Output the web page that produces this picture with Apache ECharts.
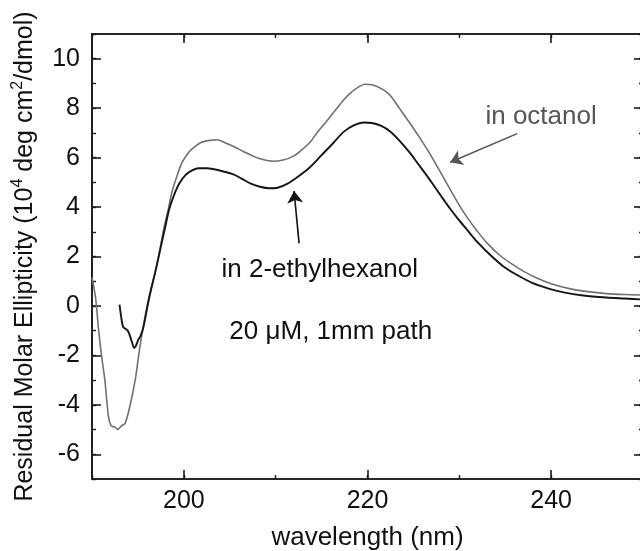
<!DOCTYPE html>
<html><head><meta charset="utf-8">
<script src="https://cdn.jsdelivr.net/npm/echarts@6/dist/echarts.min.js"></script>
<style>html,body{margin:0;padding:0;background:#fff}#c{width:640px;height:551px}</style>
</head><body><div id="c"></div>
<script>
// in octanol (gray)
const octWl = [190.0,190.4,190.7,191.0,191.4,191.8,192.1,192.5,192.8,193.2,193.6,194.1,194.7,195.2,195.6,196.0,196.5,196.9,197.4,197.8,198.3,198.7,199.2,199.8,200.4,200.9,201.8,202.5,203.0,203.6,204.2,204.8,205.4,206.5,207.6,208.6,209.7,210.8,211.9,212.8,213.7,214.5,215.5,216.3,217.4,218.1,219.0,219.7,220.5,221.7,222.5,223.5,224.6,225.7,226.8,227.5,228.3,229.2,230.0,231.0,231.9,233.0,234.4,235.5,237.0,238.5,240.0,242.0,244.0,246.0,248.0,250.0];
const octVal = [1.15,0.3,-0.9,-1.9,-3.0,-4.5,-4.85,-4.9,-5.0,-4.85,-4.75,-4.1,-3.0,-1.7,-0.8,0.0,0.8,1.4,2.3,3.1,3.9,4.6,5.2,5.8,6.15,6.35,6.6,6.68,6.7,6.72,6.65,6.55,6.45,6.25,6.05,5.92,5.85,5.9,6.05,6.3,6.6,7.0,7.45,7.82,8.33,8.6,8.85,8.97,8.95,8.75,8.5,7.98,7.4,6.8,6.15,5.7,5.18,4.58,4.07,3.5,3.05,2.55,2.05,1.75,1.4,1.12,0.9,0.7,0.58,0.5,0.46,0.44];
// in 2-ethylhexanol (black)
const ehWl = [193.0,193.2,193.4,193.9,194.3,194.6,194.8,195.0,195.3,195.6,196.0,196.3,197.0,197.5,197.95,198.4,198.9,199.5,200.2,200.9,201.6,202.5,203.3,204.2,205.4,206.3,207.3,208.3,209.3,210.2,211.3,212.5,213.7,215.0,216.3,217.4,218.5,219.6,220.5,221.5,222.5,223.5,224.6,225.5,226.5,227.2,228.1,229.0,229.9,230.8,232.0,233.4,234.8,236.3,238.0,239.9,241.5,243.5,246.0,248.0,250.0];
const ehVal = [0.05,-0.5,-0.85,-1.0,-1.4,-1.7,-1.6,-1.4,-1.2,-0.85,-0.1,0.45,1.55,2.4,3.15,3.9,4.45,4.95,5.3,5.48,5.57,5.57,5.53,5.45,5.32,5.15,4.95,4.82,4.76,4.78,4.95,5.25,5.6,6.1,6.6,7.04,7.3,7.42,7.4,7.28,7.05,6.68,6.2,5.75,5.25,4.88,4.4,3.93,3.5,3.1,2.57,2.05,1.6,1.25,0.92,0.68,0.54,0.42,0.34,0.3,0.26];

const xMajorTicks = [200, 220, 240];
const yMajorTicks = [-6, -4, -2, 0, 2, 4, 6, 8, 10];
const xRange = [190, 250];
const yRange = [-7, 11];

// annotations (data coordinates)
const octLabel = { text: 'in octanol', at: [238.9, 7.65] };
const octArrow = [[236.3, 6.97], [229.0, 5.81]];
const ehLabel = { text: 'in 2-ethylhexanol', at: [214.8, 1.45] };
const ehArrow = [[212.55, 2.53], [212.0, 4.65]];
const condLabel = { text: '20 \u03bcM, 1mm path', at: [216.0, -1.03] };

const FONT = '"Liberation Sans", Arial, Helvetica, sans-serif';
const AX = '#1a1a1a';

function zip(a, b) { return a.map((v, i) => [v, b[i]]); }

function xAx(pos, major, labels) {
  return {
    type: 'value', position: pos, min: xRange[0], max: xRange[1],
    interval: major ? undefined : 10,
    axisLine: { show: true, onZero: false, lineStyle: { color: AX, width: 1.6 } },
    axisTick: major ? { show: true, inside: true, length: 9, customValues: xMajorTicks, lineStyle: { color: AX, width: 1.6 } }
                    : { show: true, inside: true, length: 4, lineStyle: { color: AX, width: 1.4 } },
    axisLabel: labels ? { show: true, customValues: xMajorTicks, fontSize: 25, fontFamily: FONT, color: '#111', margin: 10 } : { show: false },
    splitLine: { show: false }
  };
}
function yAx(pos, major, labels) {
  return {
    type: 'value', position: pos, min: yRange[0], max: yRange[1],
    interval: major ? undefined : 1,
    axisLine: { show: true, onZero: false, lineStyle: { color: AX, width: 1.6 } },
    axisTick: major ? { show: true, inside: true, length: 9, customValues: yMajorTicks, lineStyle: { color: AX, width: 1.6 } }
                    : { show: true, inside: true, length: 4, lineStyle: { color: AX, width: 1.4 } },
    axisLabel: labels ? { show: true, customValues: yMajorTicks, fontSize: 25, fontFamily: FONT, color: '#111', margin: 12 } : { show: false },
    splitLine: { show: false }
  };
}

const xAxes = [xAx('bottom', true, true), xAx('bottom', false, false), xAx('top', true, false), xAx('top', false, false)];
xAxes[0].name = 'wavelength (nm)';
xAxes[0].nameLocation = 'middle';
xAxes[0].nameGap = 46;
xAxes[0].nameTextStyle = { fontSize: 26, fontFamily: FONT, color: '#111' };

const yAxes = [yAx('left', true, true), yAx('left', false, false), yAx('right', true, false), yAx('right', false, false)];
yAxes[0].name = '{a|Residual Molar Ellipticity (10}{s|4}{a| deg cm}{s|2}{a|/dmol)}';
yAxes[0].nameLocation = 'middle';
yAxes[0].nameRotate = 90;
yAxes[0].nameGap = 52;
yAxes[0].nameTextStyle = {
  fontFamily: FONT, color: '#111',
  rich: {
    a: { fontSize: 25, fontFamily: FONT, color: '#111', lineHeight: 30 },
    s: { fontSize: 16, fontFamily: FONT, color: '#111', lineHeight: 16, verticalAlign: 'top' }
  }
};

function textPoint(o, color) {
  return { coord: o.at, symbolSize: 0, label: { show: true, position: 'inside', formatter: o.text, fontSize: 26, fontFamily: FONT, color: color } };
}

const chart = echarts.init(document.getElementById('c'), null, { renderer: 'canvas' });
chart.setOption({
  animation: false,
  backgroundColor: '#fff',
  grid: { left: 92, right: -3, top: 34, bottom: 72, outerBoundsMode: 'none' },
  xAxis: xAxes,
  yAxis: yAxes,
  series: [
    {
      name: 'in octanol', type: 'line', xAxisIndex: 0, yAxisIndex: 0,
      data: zip(octWl, octVal), showSymbol: false, smooth: 0.3,
      lineStyle: { color: '#707070', width: 1.6 },
      markLine: {
        silent: true, symbol: ['none', 'arrow'], symbolSize: 12,
        lineStyle: { color: '#555', width: 1.6, type: 'solid' }, label: { show: false },
        data: [[{ coord: octArrow[0] }, { coord: octArrow[1] }]]
      },
      markPoint: { silent: true, data: [textPoint(octLabel, '#555')] }
    },
    {
      name: 'in 2-ethylhexanol', type: 'line', xAxisIndex: 0, yAxisIndex: 0,
      data: zip(ehWl, ehVal), showSymbol: false, smooth: 0.3,
      lineStyle: { color: '#151515', width: 1.9 },
      markLine: {
        silent: true, symbol: ['none', 'arrow'], symbolSize: 12,
        lineStyle: { color: '#111', width: 1.6, type: 'solid' }, label: { show: false },
        data: [[{ coord: ehArrow[0] }, { coord: ehArrow[1] }]]
      },
      markPoint: { silent: true, data: [textPoint(ehLabel, '#111'), textPoint(condLabel, '#111')] }
    }
  ]
});
</script>
</body></html>
